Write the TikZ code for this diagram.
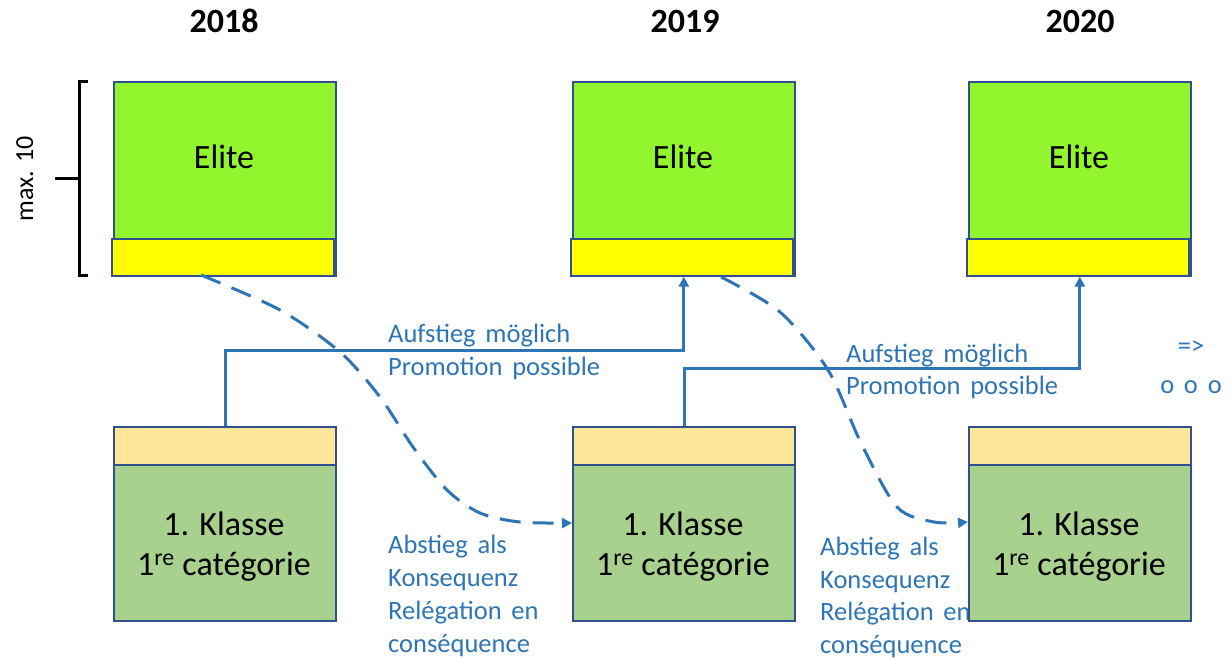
\documentclass[tikz,border=0pt]{standalone}
\usepackage{fontspec}
\setmainfont{Carlito}
\usetikzlibrary{arrows.meta}
\definecolor{eliteg}{RGB}{146,245,46}
\definecolor{yel}{RGB}{255,255,0}
\definecolor{lyel}{RGB}{255,230,153}
\definecolor{kgreen}{RGB}{169,209,142}
\definecolor{bord}{RGB}{47,82,143}
\definecolor{lblue}{RGB}{46,117,182}
\newcommand\myBlueFont{\fontsize{26.5}{32}\selectfont\spaceskip 0.37em\relax}
\begin{document}
\begin{tikzpicture}[x=1pt,y=-1pt,
  box/.style={draw=bord, line width=1.6pt, inner sep=0pt, anchor=north west, minimum width=222pt},
  elitebox/.style={box, fill=eliteg, minimum height=194pt},
  ystripe/.style={box, fill=yel, minimum height=37pt},
  kbox/.style={box, fill=kgreen, minimum height=156pt, line width=2pt},
  kstripe/.style={box, fill=lyel, minimum height=38pt, line width=2pt},
  big/.style={font=\fontsize{34}{40}\selectfont, inner sep=0pt, anchor=base},
  yearlbl/.style={font=\fontsize{34}{40}\selectfont\bfseries, inner sep=0pt, anchor=base},
  bluetext/.style={text=lblue, font=\myBlueFont, inner sep=0pt, anchor=base west},
  promo/.style={draw=lblue, line width=3pt, -{Triangle[length=10pt,width=10pt]}},
  relegation/.style={draw=lblue, line width=3pt, dash pattern=on 21pt off 12pt, -{Triangle[length=10pt,width=10pt]}},
  bracketline/.style={draw=black, line width=3pt}
]
\useasboundingbox (0,0) rectangle (1230,658);

% labels (drawn first: the boxes cover their ends)
\node[bluetext] (a1) at (388,342) {Aufstieg möglich};
\node[bluetext] (p1) at (388,375) {Promotion possible};
\node[bluetext] (a2) at (846,362) {Aufstieg möglich};
\node[bluetext] (p2) at (846,394) {Promotion possible};
\node[bluetext] (b1) at (388,553) {Abstieg als};
\node[bluetext] (b2) at (388,586) {Konsequenz};
\node[bluetext] (b3) at (388,619) {Relégation en};
\node[bluetext] (b4) at (388,652) {conséquence};
\node[bluetext] (c1) at (820,555) {Abstieg als};
\node[bluetext] (c2) at (820,588) {Konsequenz};
\node[bluetext] (c3) at (820,620) {Relégation en};
\node[bluetext] (c4) at (820,653) {conséquence};
\node[bluetext, anchor=base] (ar) at (1191,354) {=>};
\node[bluetext, anchor=base] (oo) at (1191,393) {o o o};

% years
\node[yearlbl] (y1) at (224,33) {2018};
\node[yearlbl] (y2) at (685,33) {2019};
\node[yearlbl] (y3) at (1080,33) {2020};

% elite boxes
\node[elitebox] (e1) at (113,81) {};
\node[ystripe] (s1) at (111,238) {};
\node[elitebox] (e2) at (572,81) {};
\node[ystripe] (s2) at (570,238) {};
\node[elitebox] (e3) at (968,81) {};
\node[ystripe] (s3) at (966,238) {};
\node[big] (el1) at (224,168) {Elite};
\node[big] (el2) at (683,168) {Elite};
\node[big] (el3) at (1079,168) {Elite};

% klasse boxes
\node[kbox] (k1) at (113,464) {};
\node[kstripe] (h1) at (113,426) {};
\node[kbox] (k2) at (572,464) {};
\node[kstripe] (h2) at (572,426) {};
\node[kbox] (k3) at (968,464) {};
\node[kstripe] (h3) at (968,426) {};
\node[big] (ka1) at (224,535) {1. Klasse};
\node[big] (kb1) at (224,575) {1\textsuperscript{re} catégorie};
\node[big] (ka2) at (683,535) {1. Klasse};
\node[big] (kb2) at (683,575) {1\textsuperscript{re} catégorie};
\node[big] (ka3) at (1079,535) {1. Klasse};
\node[big] (kb3) at (1079,575) {1\textsuperscript{re} catégorie};

% bracket
\draw[bracketline] (88,82) -- (79,82) -- (79,275) -- (88,275);
\draw[bracketline] (55,178) -- (79,178);
\node[rotate=90, anchor=base, inner sep=0pt, font=\fontsize{26}{30}\selectfont] (mx) at (33,179) {max. 10};

% promotion connectors
\draw[promo] (h1.north) -- ++(0,-76) -| (e2.south);
\draw[promo] (h2.north) -- ++(0,-58) -| (e3.south);

% relegation connectors
\coordinate (r1s) at (201,275);
\coordinate (r1e) at (572,523);
\coordinate (r2s) at (721,277);
\coordinate (r2e) at (968,522);
\draw[relegation] plot[smooth] coordinates {(r1s) (280,310) (340,352) (380,397) (413,447) (447,490) (480,513) (520,522) (r1e)};
\draw[relegation] plot[smooth] coordinates {(r2s) (780,312) (828,370) (861,443) (897,507) (934,522) (r2e)};
\end{tikzpicture}
\end{document}
